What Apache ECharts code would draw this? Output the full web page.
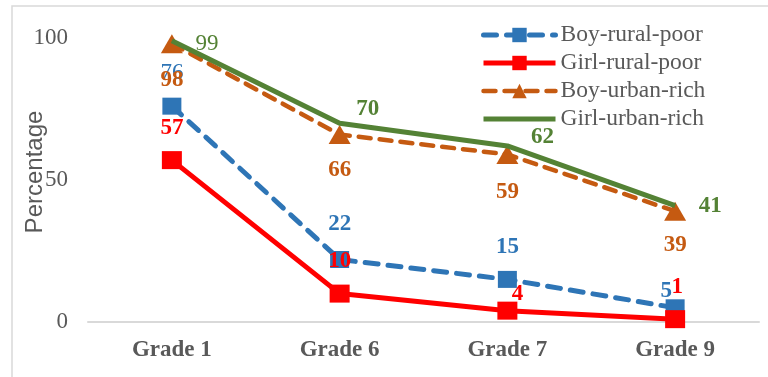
<!DOCTYPE html>
<html>
<head>
<meta charset="utf-8">
<script src="https://cdn.jsdelivr.net/npm/echarts@6/dist/echarts.min.js"></script>
<style>
  html, body { margin: 0; padding: 0; background: #fff; }
  #chart { width: 768px; height: 377px; }
</style>
</head>
<body>
<div id="chart"></div>
<script>
// Share of children still in school, by grade and group
const grades = ['Grade 1', 'Grade 6', 'Grade 7', 'Grade 9'];
const boyRuralPoor = [76, 22, 15, 5];
const girlRuralPoor = [57, 10, 4, 1];
const boyUrbanRich = [98, 66, 59, 39];
const girlUrbanRich = [99, 70, 62, 41];
const yTicks = [0, 50, 100];

// label placement around each point (pixels, relative to the point)
const labelOffsets = {
  boyRural: [[0, -33], [0, -35], [0, -32], [-9, -17]],
  girlRural: [[0, -32], [0, -33], [10, -17], [2, -32]],
  boyUrban: [[0, 36], [0, 36], [0, 38], [0, 34]],
  girlUrban: [[35, 3], [28, -14], [35, -9], [35, 1]]
};
const plainFirst = { boyRural: true, girlUrban: true };

const SERIF = '"Liberation Serif", "Times New Roman", serif';
const GREY = '#595959';
const BLUE = '#2e75b6', RED = '#ff0000', ORANGE = '#c55a11', GREEN = '#548235';

function points(values, key) {
  return values.map((v, i) => ({
    value: v,
    label: {
      offset: labelOffsets[key][i],
      fontWeight: (i === 0 && plainFirst[key]) ? 'normal' : 'bold'
    }
  }));
}

function labelStyle(color) {
  return {
    show: true,
    position: 'inside',
    color: color,
    fontFamily: SERIF,
    fontSize: 23,
    fontWeight: 'bold'
  };
}

const chart = echarts.init(document.getElementById('chart'), null, { renderer: 'canvas' });

chart.setOption({
  animation: false,
  backgroundColor: '#ffffff',
  graphic: [{
    type: 'rect',
    shape: { x: 12, y: 6, width: 780, height: 400 },
    style: { fill: 'none', stroke: '#d9d9d9', lineWidth: 1.5 },
    silent: true,
    z: -10
  }],
  grid: { left: 88, right: 9, top: 38, bottom: 55, containLabel: false, outerBoundsMode: 'none' },
  legend: {
    orient: 'vertical',
    left: 476,
    top: 18,
    itemWidth: 72,
    itemHeight: 18,
    itemGap: 4,
    lineStyle: { width: 'inherit' },
    textStyle: { color: GREY, fontFamily: SERIF, fontSize: 23.5, lineHeight: 24 },
    data: ['Boy-rural-poor', 'Girl-rural-poor', 'Boy-urban-rich', 'Girl-urban-rich']
  },
  xAxis: {
    type: 'category',
    data: grades,
    boundaryGap: true,
    axisLine: { show: true, lineStyle: { color: '#d9d9d9', width: 2 } },
    axisTick: { show: false },
    splitLine: { show: false },
    axisLabel: {
      color: GREY,
      fontFamily: SERIF,
      fontSize: 23,
      fontWeight: 'bold',
      margin: 17
    }
  },
  yAxis: {
    type: 'value',
    min: yTicks[0],
    max: yTicks[yTicks.length - 1],
    interval: yTicks[1] - yTicks[0],
    name: 'Percentage',
    nameLocation: 'middle',
    nameGap: 41,
    nameMoveOverlap: false,
    nameTextStyle: { color: GREY, fontFamily: '"Liberation Sans", Arial, sans-serif', fontSize: 24, padding: [0, 0, 0, 16] },
    axisLine: { show: false },
    axisTick: { show: false },
    splitLine: { show: false },
    axisLabel: { color: GREY, fontFamily: SERIF, fontSize: 23, margin: 20 }
  },
  series: [
    {
      name: 'Boy-rural-poor',
      type: 'line',
      data: points(boyRuralPoor, 'boyRural'),
      color: BLUE,
      symbol: 'rect',
      symbolSize: [19, 17],
      clip: false,
      lineStyle: { color: BLUE, width: 5, type: [13, 10], cap: 'round' },
      itemStyle: { color: BLUE },
      label: labelStyle(BLUE),
      z: 2
    },
    {
      name: 'Girl-rural-poor',
      type: 'line',
      data: points(girlRuralPoor, 'girlRural'),
      color: RED,
      symbol: 'rect',
      symbolSize: [20, 18],
      clip: false,
      lineStyle: { color: RED, width: 5 },
      itemStyle: { color: RED },
      label: labelStyle(RED),
      z: 3
    },
    {
      name: 'Boy-urban-rich',
      type: 'line',
      data: points(boyUrbanRich, 'boyUrban'),
      color: ORANGE,
      symbol: 'triangle',
      symbolSize: [22, 19],
      clip: false,
      lineStyle: { color: ORANGE, width: 4.5, type: [12, 9], cap: 'round' },
      itemStyle: { color: ORANGE },
      label: labelStyle(ORANGE),
      z: 4
    },
    {
      name: 'Girl-urban-rich',
      type: 'line',
      data: points(girlUrbanRich, 'girlUrban'),
      color: GREEN,
      // invisible marker: the line has no symbol, but its labels still need one
      symbol: 'circle',
      symbolSize: 1,
      clip: false,
      lineStyle: { color: GREEN, width: 5 },
      itemStyle: { color: 'rgba(0,0,0,0)' },
      label: labelStyle(GREEN),
      z: 5
    }
  ]
});
</script>
</body>
</html>
